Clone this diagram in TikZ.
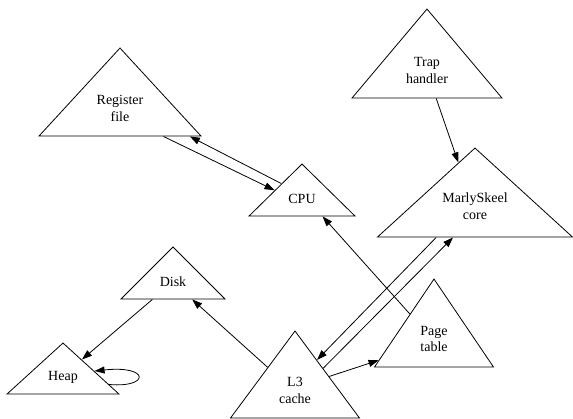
\documentclass[tikz,border=0pt]{standalone}
\usepackage{fontspec}
\setmainfont{Liberation Serif}
\usetikzlibrary{shapes.geometric, arrows.meta}

\begin{document}
\begin{tikzpicture}[x=1pt, y=-1pt, line width=0.8pt,
    tri/.style={draw, isosceles triangle, isosceles triangle stretches,
      shape border rotate=90, inner sep=0pt, align=center,
      font=\fontsize{14}{16.8}\selectfont},
    edge/.style={-{Triangle[length=10pt,width=7pt]}}]
  \useasboundingbox (0,0) rectangle (573,418);

  % nodes
  \node[tri, minimum width=162pt, minimum height=88pt, anchor=apex] (regfile) at (120,47) {Register\\file};
  \node[tri, minimum width=106pt, minimum height=52pt, anchor=apex] (cpu) at (302,163) {CPU};
  \node[tri, minimum width=150pt, minimum height=89pt, anchor=apex] (trap) at (427,8) {Trap\\handler};
  \node[tri, minimum width=195pt, minimum height=89pt, inner xsep=-10pt, anchor=apex] (core) at (475,147) {MarlySkeel\\core};
  \node[tri, minimum width=104pt, minimum height=52pt, anchor=apex] (disk) at (173,246) {Disk};
  \node[tri, minimum width=112pt, minimum height=51pt, anchor=apex] (heap) at (63,342) {Heap};
  \node[tri, minimum width=129pt, minimum height=87pt, anchor=apex] (cache) at (295,330) {L3\\cache};
  \node[tri, minimum width=119pt, minimum height=88pt, anchor=apex] (page) at (434,278) {Page\\table};

  % edges
  \draw[edge] (regfile.-33) -- (cpu.162);
  \draw[edge] (cpu.143) -- (regfile.-22);
  \draw[edge] (trap.-72) -- (core.111);
  \draw[edge] (page.134) -- (cpu.-40);
  \draw[edge] (core.-141) -- (cache.54);
  \draw[edge] (cache.38) -- (core.-125);
  \draw[edge] (cache.22) -- (page.-159);
  \draw[edge] (cache.140) -- (disk.-42);
  \draw[edge] (disk.-140) -- (heap.43);
  \draw[edge] (heap.-9) .. controls (150,388) and (150,365) .. (heap.11);
\end{tikzpicture}
\end{document}
